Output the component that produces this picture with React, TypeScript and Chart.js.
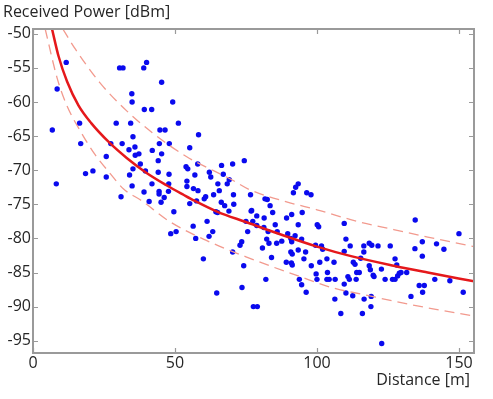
import React, { useEffect, useRef } from 'react';
import { Chart, registerables } from 'chart.js';

Chart.register(...registerables);

// Measured samples
const distance = [
  6.8, 8.5, 8.2, 11.7, 16.4, 16.8, 18.5, 21.1, 25.8, 25.8, 27.4, 29.3, 30.5, 31.7, 31.4, 31.0,
  33.8, 34.0, 34.4, 34.8, 34.9, 34.9, 35.2, 35.2, 35.9, 36.0, 37.3, 37.8, 39.0, 40.0, 39.2, 41.8,
  39.1, 39.6, 40.9, 45.3, 44.7, 46.5, 44.5, 48.0, 42.0, 45.3, 44.1, 44.1, 47.9, 41.9, 47.8, 44.4,
  44.4, 46.2, 45.1, 47.7, 49.2, 49.6, 48.5, 50.4, 51.2, 55.2, 58.3, 53.9, 54.5, 58.0, 57.0, 54.2,
  54.2, 56.5, 58.1, 55.2, 57.6, 56.4, 57.3, 60.0, 60.3, 60.8, 61.3, 62.0, 63.3, 62.1, 62.6, 66.4,
  67.0, 65.1, 65.6, 63.6, 64.4, 65.0, 66.3, 67.5, 64.7, 68.4, 69.1, 69.0, 70.3, 74.4, 70.6, 70.7,
  70.3, 72.9, 73.5, 74.2, 73.6, 75.6, 76.6, 76.8, 77.4, 75.0, 77.6, 79.0, 78.8, 78.8, 77.0, 81.7,
  82.5, 83.5, 84.4, 81.4, 85.3, 81.3, 82.8, 86.0, 82.3, 83.1, 85.8, 87.6, 80.8, 84.0, 82.0, 89.3,
  89.2, 89.7, 91.1, 93.4, 92.5, 91.7, 96.4, 97.9, 94.8, 93.4, 92.3, 90.8, 91.1, 94.6, 93.4, 96.0,
  90.8, 91.3, 91.0, 91.3, 95.4, 98.0, 93.8, 94.6, 96.2, 100.1, 100.6, 99.5, 101.6, 102.0, 101.0, 99.7,
  100.0, 103.5, 103.7, 103.5, 104.3, 106.4, 106.0, 106.3, 108.4, 109.6, 110.2, 109.6, 109.6, 111.7, 112.8, 113.4,
  110.9, 111.4, 110.2, 112.6, 113.8, 114.0, 114.9, 115.4, 116.5, 116.5, 118.4, 119.3, 118.4, 118.8, 119.8, 120.1,
  116.6, 119.1, 119.0, 116.0, 121.5, 122.7, 124.0, 125.8, 127.5, 128.1, 126.6, 127.5, 128.4, 129.0, 129.6, 131.6,
  122.8, 133.1, 134.6, 134.5, 137.1, 137.1, 136.0, 137.8, 137.2, 141.5, 142.1, 144.7, 146.8, 150.0, 151.5,
];
const power = [
  -64.1, -58.1, -72.0, -54.2, -63.1, -66.1, -70.5, -70.1, -68.0, -71.0, -66.1, -63.1, -55.0, -55.0, -66.1, -73.9,
  -67.0, -70.7, -63.1, -58.8, -60.0, -72.3, -65.1, -69.8, -66.6, -67.8, -67.6, -69.1, -55.0, -54.2, -61.1, -61.1,
  -73.2, -70.1, -74.6, -57.1, -64.1, -64.1, -66.1, -66.1, -67.1, -67.6, -68.6, -70.3, -70.6, -72.0, -72.0, -73.1,
  -73.5, -74.0, -74.7, -73.1, -60.0, -76.1, -79.3, -79.0, -63.1, -66.7, -64.8, -69.5, -69.8, -69.1, -70.7, -71.6,
  -72.4, -72.7, -73.0, -74.9, -74.5, -78.2, -80.0, -83.0, -74.2, -73.9, -77.5, -79.7, -79.0, -70.3, -71.0, -69.3,
  -70.6, -72.0, -73.0, -73.6, -76.1, -76.2, -74.7, -75.2, -88.0, -72.0, -71.4, -76.0, -69.1, -68.6, -73.6, -75.0,
  -82.0, -81.0, -80.5, -84.0, -87.2, -79.0, -73.6, -76.0, -77.5, -77.5, -90.0, -90.0, -76.7, -78.1, -75.9, -74.2,
  -74.3, -75.2, -76.2, -77.0, -78.0, -78.4, -79.0, -79.0, -80.1, -80.7, -80.7, -80.4, -81.4, -82.8, -86.0, -77.0,
  -83.5, -79.3, -76.5, -72.0, -72.5, -73.3, -73.3, -73.6, -76.2, -78.0, -79.6, -80.0, -80.5, -80.1, -81.7, -82.0,
  -82.0, -82.3, -83.6, -83.9, -83.0, -84.0, -86.0, -86.8, -87.9, -78.0, -78.3, -81.0, -81.1, -81.6, -83.5, -85.2,
  -86.0, -83.0, -85.0, -86.0, -86.0, -86.0, -83.5, -88.9, -91.0, -77.8, -80.1, -81.9, -86.7, -81.1, -83.5, -83.8,
  -85.6, -86.0, -88.0, -88.4, -86.0, -85.0, -85.0, -82.9, -81.1, -82.0, -80.7, -81.0, -84.0, -84.6, -85.4, -85.6,
  -88.9, -88.5, -90.0, -91.0, -81.1, -84.5, -86.0, -81.1, -83.0, -83.9, -86.0, -86.0, -85.5, -85.1, -85.0, -85.0,
  -95.4, -88.5, -77.3, -81.5, -80.5, -82.6, -86.9, -86.9, -87.9, -86.0, -80.8, -81.6, -86.2, -79.3, -87.9,
];

// Fitted path-loss curve
const fitDistance = [6.7, 9, 12, 16, 20.5, 27, 33, 40, 47, 53, 57, 65, 75, 85, 100, 112, 127, 139, 155.3];
const fitPower = [-49.3, -53.3, -57.0, -60.5, -63.1, -66.0, -68.2, -70.4, -72.2, -73.6, -74.5, -76.1, -77.6, -79.1, -81.2, -82.6, -84.0, -85.0, -86.3];

// Upper / lower bounds (dashed)
const upperDistance = [10.5, 15, 23.6, 33, 42, 54, 70, 76, 89, 100, 115, 127, 139, 155.3];
const upperPower = [-49.3, -52.3, -57.2, -61.3, -64.5, -68.0, -71.4, -72.8, -74.6, -75.8, -77.6, -78.7, -79.8, -81.2];
const lowerDistance = [4.3, 8.5, 11.7, 17, 22, 27, 32, 38, 48, 60, 75, 94, 106, 116, 133, 155.3];
const lowerPower = [-49.3, -56.5, -60.3, -64.5, -67.8, -70.4, -72.8, -74.4, -77.5, -80.1, -82.7, -85.6, -87.3, -88.2, -89.7, -91.4];

const xTicks = [0, 50, 100, 150];
const yTicks = [-50, -55, -60, -65, -70, -75, -80, -85, -90, -95];

const X_MIN = 0;
const X_MAX = 155.3;
const Y_MIN = -96.8;
const Y_MAX = -49.3;

const FONT = '"Open Sans", "DejaVu Sans", sans-serif';

const framePlugin = {
  id: 'frame',
  afterDatasetsDraw(chart: any) {
    const { ctx, chartArea } = chart;
    const { left, top, right, bottom } = chartArea;
    const xs = chart.scales.x;
    const ys = chart.scales.y;
    ctx.save();
    ctx.strokeStyle = '#9a9a9a';
    ctx.lineWidth = 2;
    ctx.strokeRect(left, top, right - left, bottom - top);
    ctx.lineWidth = 1.2;
    ctx.beginPath();
    const tl = 5;
    xTicks.forEach((v) => {
      const px = Math.round(xs.getPixelForValue(v)) + 0.5;
      ctx.moveTo(px, bottom);
      ctx.lineTo(px, bottom - tl);
      ctx.moveTo(px, top);
      ctx.lineTo(px, top + tl);
    });
    yTicks.forEach((v) => {
      const py = Math.round(ys.getPixelForValue(v)) + 0.5;
      ctx.moveTo(left, py);
      ctx.lineTo(left + tl, py);
      ctx.moveTo(right, py);
      ctx.lineTo(right - tl, py);
    });
    ctx.stroke();
    ctx.restore();
  },
  afterDraw(chart: any) {
    const { ctx } = chart;
    ctx.save();
    ctx.fillStyle = '#262626';
    ctx.font = `16px ${FONT}`;
    ctx.textBaseline = 'middle';
    ctx.textAlign = 'left';
    ctx.fillText('Received Power [dBm]', 3, 12);
    ctx.textAlign = 'right';
    ctx.fillText('Distance [m]', 470, 380);
    ctx.restore();
  },
};

export default function App() {
  const canvasRef = useRef<HTMLCanvasElement | null>(null);

  useEffect(() => {
    const canvas = canvasRef.current;
    if (!canvas) return;
    const points = distance.map((d, i) => ({ x: d, y: power[i] }));
    const fit = fitDistance.map((d, i) => ({ x: d, y: fitPower[i] }));
    const upper = upperDistance.map((d, i) => ({ x: d, y: upperPower[i] }));
    const lower = lowerDistance.map((d, i) => ({ x: d, y: lowerPower[i] }));

    const chart = new Chart(canvas, {
      type: 'scatter',
      data: {
        datasets: [
          {
            type: 'line',
            data: fit,
            borderColor: '#e5181b',
            borderWidth: 2.5,
            pointRadius: 0,
            fill: false,
            cubicInterpolationMode: 'monotone',
            order: 0,
          } as any,
          {
            type: 'line',
            data: upper,
            borderColor: '#f29a8e',
            borderWidth: 1.3,
            borderDash: [10, 6],
            pointRadius: 0,
            fill: false,
            cubicInterpolationMode: 'monotone',
            order: 1,
          } as any,
          {
            type: 'line',
            data: lower,
            borderColor: '#f29a8e',
            borderWidth: 1.3,
            borderDash: [10, 6],
            pointRadius: 0,
            fill: false,
            cubicInterpolationMode: 'monotone',
            order: 1,
          } as any,
          {
            data: points,
            backgroundColor: '#0a0aee',
            borderWidth: 0,
            pointRadius: 2.7,
            pointHoverRadius: 2.7,
            order: 2,
          } as any,
        ],
      },
      options: {
        animation: false,
        responsive: false,
        maintainAspectRatio: false,
        events: [],
        layout: { padding: { left: 0, top: 29, right: 19, bottom: 0 } },
        plugins: {
          legend: { display: false },
          tooltip: { enabled: false },
        },
        scales: {
          x: {
            type: 'linear',
            min: X_MIN,
            max: X_MAX,
            grid: { display: false, drawTicks: false },
            border: { display: false },
            afterBuildTicks: (s: any) => {
              s.ticks = xTicks.map((v) => ({ value: v }));
            },
            afterFit: (s: any) => {
              s.height = 46;
            },
            ticks: {
              padding: 1,
              maxRotation: 0,
              autoSkip: false,
              color: '#262626',
              font: { family: FONT, size: 16 },
            },
          },
          y: {
            type: 'linear',
            min: Y_MIN,
            max: Y_MAX,
            grid: { display: false, drawTicks: false },
            border: { display: false },
            afterBuildTicks: (s: any) => {
              s.ticks = yTicks.map((v) => ({ value: v }));
            },
            afterFit: (s: any) => {
              s.width = 33;
            },
            ticks: {
              padding: 2,
              autoSkip: false,
              color: '#262626',
              font: { family: FONT, size: 16 },
            },
          },
        },
      },
      plugins: [framePlugin],
    });
    return () => chart.destroy();
  }, []);

  return (
    <div style={{ position: 'absolute', left: 0, top: 0, width: 493, height: 399, background: '#fff' }}>
      <canvas ref={canvasRef} width={493} height={399} style={{ width: 493, height: 399, display: 'block' }} />
    </div>
  );
}
